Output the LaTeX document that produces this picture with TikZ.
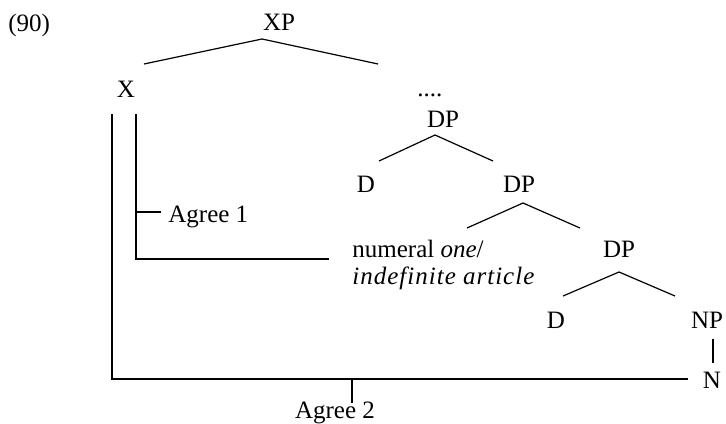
\documentclass[tikz,border=0pt]{standalone}
\usepackage{fontspec}
\setmainfont{Liberation Serif}
\usepackage{tikz}

\begin{document}
\begin{tikzpicture}[x=0.5pt, y=-0.5pt, font=\fontsize{12.5}{14}\selectfont,
    lbl/.style={anchor=base, inner sep=0pt},
    lblw/.style={anchor=base west, inner sep=0pt},
    branch/.style={line width=0.6pt},
    agree/.style={line width=0.7pt}]
  \useasboundingbox (0,0) rectangle (726,423);

  % example number and the category labels, placed at their baselines
  \node[lblw] (ex) at (8, 31) {(90)};
  \node[lbl] (xp) at (279, 30) {XP};
  \node[lbl] (x) at (126, 97) {X};
  \node[lblw] (dots) at (417, 96) {....};
  \node[lbl] (dpa) at (443, 127) {DP};
  \node[lbl] (da) at (366, 192) {D};
  \node[lbl] (dpb) at (519, 192) {DP};
  \node[lblw] (num) at (352, 257) {numeral \textit{one}/};
  \node[lblw] (art) at (352, 284) {\addfontfeature{LetterSpace=4}\textit{indefinite article}};
  \node[lbl] (dpc) at (619, 257) {DP};
  \node[lbl] (db) at (556, 328) {D};
  \node[lbl] (np) at (707, 328) {NP};
  \node[lbl] (n) at (712, 388) {N};
  \node[lblw] (agrA) at (168, 222) {Agree 1};
  \node[lbl] (agrB) at (335, 418) {Agree 2};

  % branch ends
  \coordinate (xp-t) at (262, 39);
  \coordinate (xp-l) at (144, 64);
  \coordinate (xp-r) at (378, 64);
  \coordinate (dpa-t) at (435, 135);
  \coordinate (dpa-l) at (379, 161);
  \coordinate (dpa-r) at (493, 161);
  \coordinate (dpb-t) at (523, 203);
  \coordinate (dpb-l) at (467, 228);
  \coordinate (dpb-r) at (580, 228);
  \coordinate (dpc-t) at (619, 272);
  \coordinate (dpc-l) at (563, 296);
  \coordinate (dpc-r) at (675, 296);
  \coordinate (np-b) at (713, 339);
  \coordinate (n-t) at (713, 363);

  % the tree
  \draw[branch] (xp-l) -- (xp-t) -- (xp-r);
  \draw[branch] (dpa-l) -- (dpa-t) -- (dpa-r);
  \draw[branch] (dpb-l) -- (dpb-t) -- (dpb-r);
  \draw[branch] (dpc-l) -- (dpc-t) -- (dpc-r);
  \draw[branch] (np-b) -- (n-t);

  % the two Agree relations
  \coordinate (outer-t) at (112, 114);
  \coordinate (outer-e) at (688, 379);
  \coordinate (inner-t) at (136, 114);
  \coordinate (inner-e) at (329, 259);
  \coordinate (tickA-e) at (161, 212);
  \coordinate (tickB-t) at (352, 379);
  \coordinate (tickB-e) at (352, 403);
  \draw[agree] (outer-t) |- (outer-e);
  \draw[agree] (inner-t) |- (inner-e);
  \draw[agree] (inner-t |- tickA-e) -- (tickA-e);
  \draw[agree] (tickB-t) -- (tickB-e);
\end{tikzpicture}
\end{document}
